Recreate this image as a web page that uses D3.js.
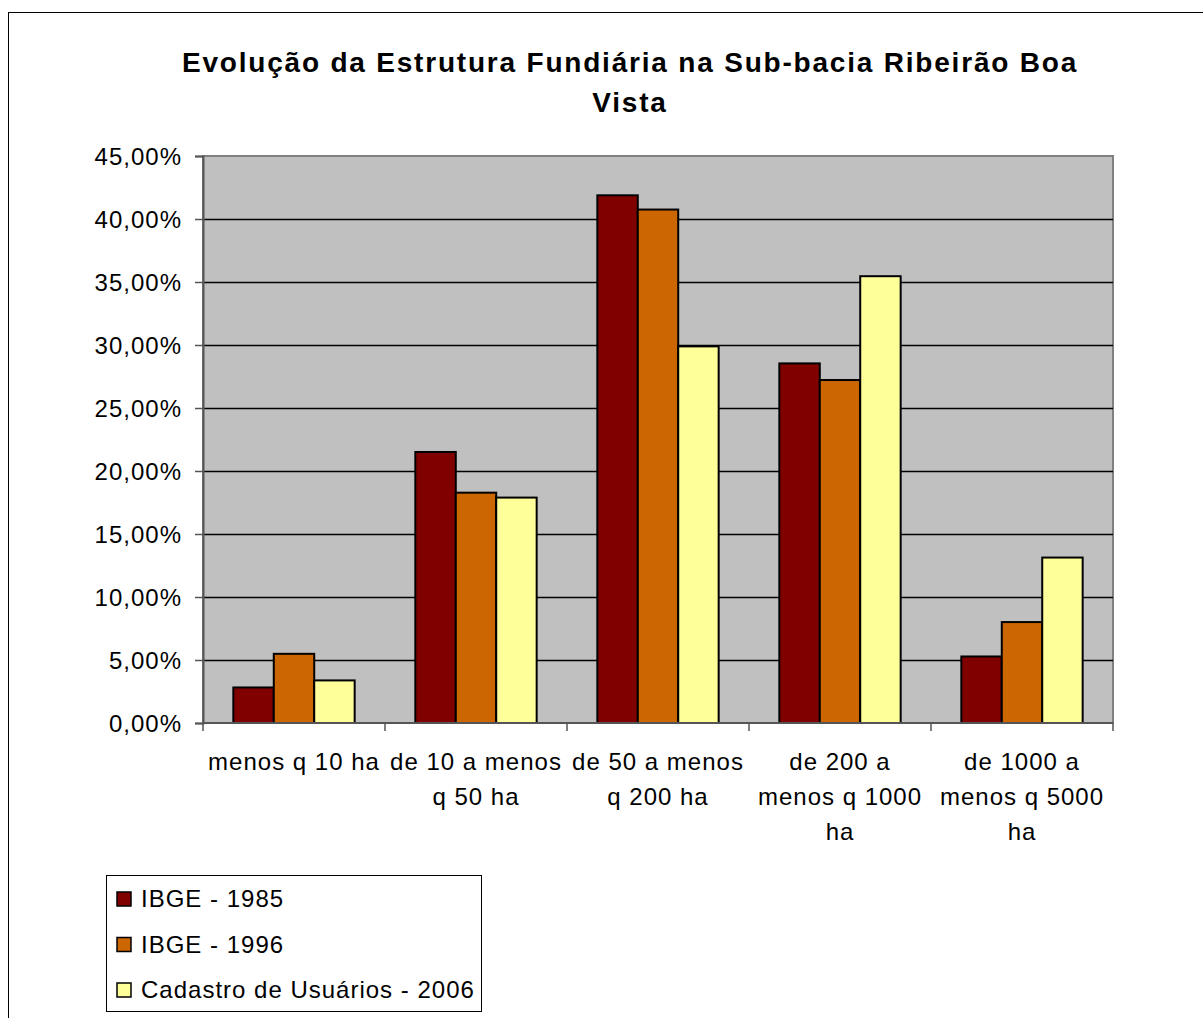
<!DOCTYPE html>
<html>
<head>
<meta charset="utf-8">
<script src="https://cdn.jsdelivr.net/npm/d3@7"></script>
<style>
  body { margin: 0; background: #fff; }
  text { font-family: Arial, "Liberation Sans", sans-serif; fill: #000; }
  .tick-label { font-size: 24px; letter-spacing: 1px; }
  .title { font-size: 28px; font-weight: bold; letter-spacing: 1.8px; }
</style>
</head>
<body>
<svg id="chart"></svg>
<script>
// chart data
const title = ['Evolução da Estrutura Fundiária na Sub-bacia Ribeirão Boa', 'Vista']
const categories = [
    'menos q 10 ha',
    'de 10 a menos\nq 50 ha',
    'de 50 a menos\nq 200 ha',
    'de 200 a\nmenos q 1000\nha',
    'de 1000 a\nmenos q 5000\nha'
]
const seriesNames = ['IBGE - 1985', 'IBGE - 1996', 'Cadastro de Usuários - 2006']
const ibge1985 = [2.82, 21.51, 41.88, 28.54, 5.28]
const ibge1996 = [5.49, 18.28, 40.75, 27.22, 8.01]
const cadastro2006 = [3.38, 17.89, 29.89, 35.46, 13.13]
const yTicks = [0, 5, 10, 15, 20, 25, 30, 35, 40, 45]
const colors = ['#800000', '#CC6600', '#FFFF99']

const width = 1203
const height = 1018
const plot = { left: 203, right: 1113, top: 156, bottom: 723 }

const series = [ibge1985, ibge1996, cadastro2006]

const chart = d3.select('#chart')
    .attr('width', width)
    .attr('height', height)

// outer border (runs off the right and bottom edges)
chart.append('rect')
    .attr('x', 8.5).attr('y', 12.5)
    .attr('width', 1210).attr('height', 1020)
    .attr('fill', 'none').attr('stroke', '#000').attr('stroke-width', 1)

// title
chart.append('text')
    .attr('class', 'title')
    .attr('text-anchor', 'middle')
    .selectAll('tspan')
    .data(title)
    .join('tspan')
    .attr('x', 630)
    .attr('y', (d, i) => 72 + i * 40)
    .text(d => d)

const xScale = d3.scaleBand().domain(d3.range(categories.length)).range([plot.left, plot.right])
const xInner = d3.scaleBand().domain(d3.range(series.length)).range([0, xScale.bandwidth()]).paddingOuter(0.75)
const yScale = d3.scaleLinear().domain([0, 45]).range([plot.bottom, plot.top])

const fmt = d3.formatLocale({ decimal: ',', thousands: '.', grouping: [3], currency: ['R$', ''] }).format('.2f')

// plot background
chart.append('rect')
    .attr('x', plot.left).attr('y', plot.top)
    .attr('width', plot.right - plot.left).attr('height', plot.bottom - plot.top)
    .attr('fill', '#C0C0C0').attr('stroke', '#808080').attr('stroke-width', 2)

// gridlines
chart.append('g')
    .selectAll('line')
    .data(yTicks.filter(t => t > 0 && t < 45))
    .join('line')
    .attr('x1', plot.left).attr('x2', plot.right)
    .attr('y1', d => Math.round(yScale(d)) + 0.5).attr('y2', d => Math.round(yScale(d)) + 0.5)
    .attr('stroke', '#000').attr('stroke-width', 1.5)

// bars
const groups = chart.append('g')
    .selectAll('g')
    .data(categories.map((c, i) => series.map((s, j) => ({ i, j, v: s[i] }))))
    .join('g')
    .attr('transform', (d, i) => `translate(${xScale(i)},0)`)

groups.selectAll('rect')
    .data(d => d)
    .join('rect')
    .attr('x', d => xInner(d.j))
    .attr('y', d => yScale(d.v))
    .attr('width', xInner.bandwidth())
    .attr('height', d => yScale(0) - yScale(d.v))
    .attr('fill', d => colors[d.j])
    .attr('stroke', '#000')
    .attr('stroke-width', 2)

// y axis
const yAxis = d3.axisLeft(yScale).tickValues(yTicks).tickSize(8).tickPadding(13).tickFormat(d => fmt(d) + '%')
const gy = chart.append('g').attr('transform', `translate(${plot.left},0)`).call(yAxis)
gy.select('.domain').attr('stroke', '#555').attr('stroke-width', 2)
gy.selectAll('.tick line').attr('stroke', '#555').attr('stroke-width', 1.5)
gy.selectAll('.tick text')
    .attr('class', 'tick-label')
    .attr('font-size', null).attr('font-family', null)
    .attr('dy', '0.36em')

// x axis: ticks on category boundaries
chart.append('line')
    .attr('x1', plot.left).attr('x2', plot.right)
    .attr('y1', plot.bottom).attr('y2', plot.bottom)
    .attr('stroke', '#555').attr('stroke-width', 2)
chart.append('g')
    .selectAll('line')
    .data(d3.range(categories.length + 1))
    .join('line')
    .attr('x1', i => plot.left + i * xScale.step()).attr('x2', i => plot.left + i * xScale.step())
    .attr('y1', plot.bottom).attr('y2', plot.bottom + 8)
    .attr('stroke', '#555').attr('stroke-width', 1.5)

chart.append('g')
    .selectAll('text')
    .data(categories)
    .join('text')
    .attr('class', 'tick-label')
    .attr('text-anchor', 'middle')
    .each(function (d, i) {
        d3.select(this).selectAll('tspan')
            .data(d.split('\n'))
            .join('tspan')
            .attr('x', xScale(i) + xScale.bandwidth() / 2)
            .attr('y', (t, k) => 770 + k * 35)
            .text(t => t)
    })

// legend
const legend = chart.append('g')
legend.append('rect')
    .attr('x', 106.5).attr('y', 875.5)
    .attr('width', 375).attr('height', 136)
    .attr('fill', '#fff').attr('stroke', '#000').attr('stroke-width', 1)

const items = legend.selectAll('g.item')
    .data(seriesNames)
    .join('g')
    .attr('class', 'item')
    .attr('transform', (d, i) => `translate(0,${i * 45.5})`)

items.append('rect')
    .attr('x', 117).attr('y', 892)
    .attr('width', 14).attr('height', 14)
    .attr('fill', (d, i) => colors[i])
    .attr('stroke', '#000').attr('stroke-width', 1.5)

items.append('text')
    .attr('class', 'tick-label')
    .attr('x', 141).attr('y', 907)
    .text(d => d)
</script>
</body>
</html>
